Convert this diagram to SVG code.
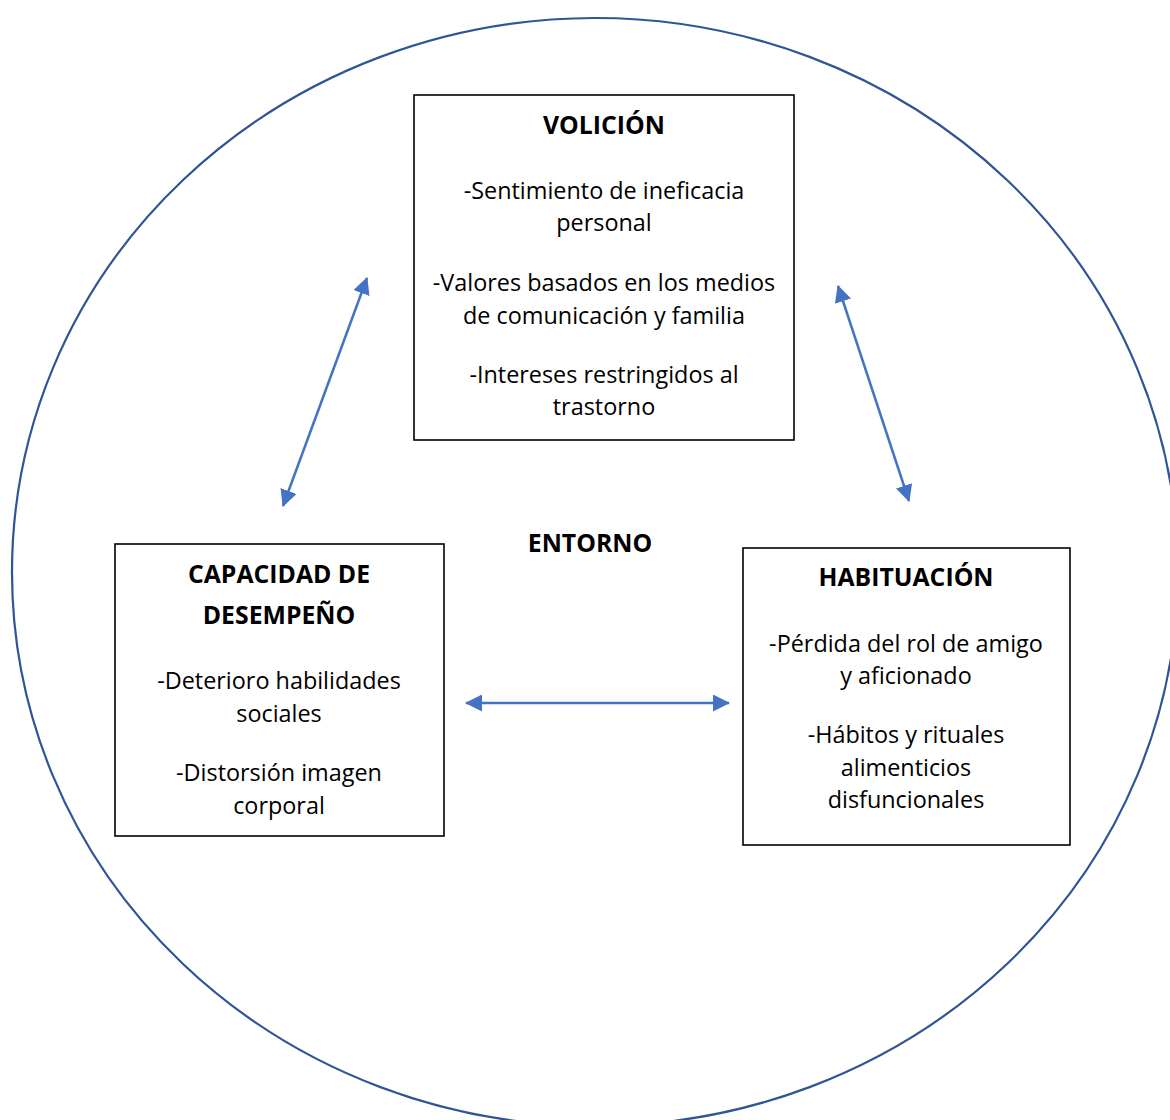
<svg xmlns="http://www.w3.org/2000/svg" width="1170" height="1120" viewBox="0 0 1170 1120">
<style>
.box{fill:#fff;stroke:#000;stroke-width:1.6}
.t{font-family:"Open Sans","Noto Sans","Liberation Sans",sans-serif;font-size:23.4px;fill:#000;text-anchor:middle}
.b{font-weight:bold;font-size:24.8px}
.c{stroke:#4472C4;stroke-width:2.5;fill:none;marker-start:url(#ah);marker-end:url(#ah)}
</style>
<defs>
<marker id="ah" markerUnits="userSpaceOnUse" markerWidth="17" markerHeight="17" refX="16" refY="8.5" orient="auto-start-reverse">
<path d="M0,0 L17,8.5 L0,17 z" fill="#4472C4"/>
</marker>
</defs>
<rect width="1170" height="1120" fill="#fff"/>
<ellipse id="entorno-ring" cx="595" cy="572" rx="583" ry="554" fill="none" stroke="#2F5597" stroke-width="2.2"/>
<g id="connectors">
<line class="c" x1="283" y1="506" x2="367" y2="278"/>
<line class="c" x1="838" y1="286" x2="909" y2="501"/>
<line class="c" x1="466" y1="703" x2="729" y2="703"/>
</g>
<g id="volicion">
<rect class="box" x="414" y="95" width="380" height="345"/>
<text class="t b" x="604" y="134">VOLICIÓN</text>
<text class="t" x="604" y="199">-Sentimiento de ineficacia</text>
<text class="t" x="604" y="231">personal</text>
<text class="t" x="604" y="291">-Valores basados en los medios</text>
<text class="t" x="604" y="324">de comunicación y familia</text>
<text class="t" x="604" y="383">-Intereses restringidos al</text>
<text class="t" x="604" y="415">trastorno</text>
</g>
<g id="capacidad">
<rect class="box" x="115" y="544" width="329" height="292"/>
<text class="t b" x="279" y="583">CAPACIDAD DE</text>
<text class="t b" x="279" y="624">DESEMPEÑO</text>
<text class="t" x="279" y="689">-Deterioro habilidades</text>
<text class="t" x="279" y="722">sociales</text>
<text class="t" x="279" y="781">-Distorsión imagen</text>
<text class="t" x="279" y="814">corporal</text>
</g>
<g id="habituacion">
<rect class="box" x="743" y="548" width="327" height="297"/>
<text class="t b" x="906" y="586">HABITUACIÓN</text>
<text class="t" x="906" y="652">-Pérdida del rol de amigo</text>
<text class="t" x="906" y="684">y aficionado</text>
<text class="t" x="906" y="743">-Hábitos y rituales</text>
<text class="t" x="906" y="776">alimenticios</text>
<text class="t" x="906" y="808">disfuncionales</text>
</g>
<g id="entorno">
<text class="t b" x="590" y="552">ENTORNO</text>
</g>
</svg>
